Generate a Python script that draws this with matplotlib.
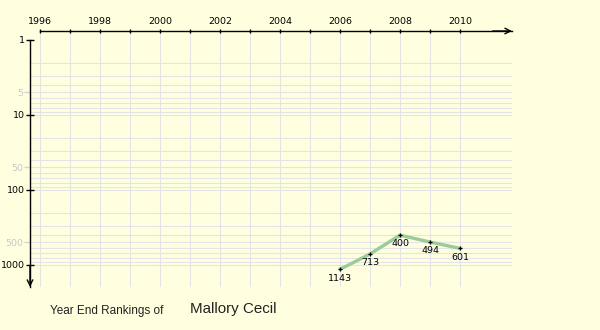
import matplotlib
matplotlib.use("Agg")
import matplotlib.pyplot as plt

# Year-end ranking history
years = [2006, 2007, 2008, 2009, 2010]
ranks = [1143, 713, 400, 494, 601]

major_years = [1996, 1998, 2000, 2002, 2004, 2006, 2008, 2010]
minor_years = [1997, 1999, 2001, 2003, 2005, 2007, 2009]
major_ranks = [1, 10, 100, 1000]
minor_ranks = [5, 50, 500]

player = "Mallory Cecil"

BG = "#ffffe0"
GRID = "#e4e4e6"
W, H = 600, 330

fig = plt.figure(figsize=(W / 100, H / 100), dpi=100, facecolor=BG)
# axes box in pixel terms: left 30, right 512, top 31, bottom 287
ax = fig.add_axes([30 / W, 1 - 287 / H, (512 - 30) / W, (287 - 31) / H])
ax.set_facecolor(BG)
ax.set_xlim(1995.667, 2011.733)
ax.set_yscale("log")
ax.set_ylim(1965, 0.759)

# grid: every year vertically, 2..9 per decade horizontally
for yr in major_years + minor_years:
    ax.axvline(yr, color=GRID, lw=0.8, zorder=0)
grid_ranks = [m * 10 ** k for k in range(3) for m in range(2, 11)]
for r in grid_ranks:
    ax.axhline(r, color=GRID, lw=0.8, zorder=0)

# axes lines
for s in ("right", "bottom"):
    ax.spines[s].set_visible(False)
ax.spines["top"].set_bounds(1996, 2011.733)
ax.spines["left"].set_bounds(1, 1965)
for s in ("top", "left"):
    ax.spines[s].set_linewidth(1.0)
    ax.spines[s].set_color("black")

ax.annotate("", xy=(1.0, 1.0), xytext=(0.96, 1.0), xycoords="axes fraction",
            arrowprops=dict(arrowstyle="->", lw=1.0, color="black",
                            shrinkA=0, shrinkB=0, mutation_scale=10),
            annotation_clip=False)
ax.annotate("", xy=(0.0, 0.0), xytext=(0.0, 0.08), xycoords="axes fraction",
            arrowprops=dict(arrowstyle="->", lw=1.0, color="black",
                            shrinkA=0, shrinkB=0, mutation_scale=10),
            annotation_clip=False)

# x ticks on top
ax.xaxis.tick_top()
ax.set_xticks(major_years)
ax.set_xticklabels([str(y) for y in major_years])
ax.set_xticks(minor_years, minor=True)
ax.tick_params(axis="x", which="both", direction="inout", length=3.2, width=1,
               colors="black", labelsize=6.8, pad=2)

# y ticks
ax.set_yticks(major_ranks)
ax.set_yticklabels([str(r) for r in major_ranks])
ax.set_yticks(minor_ranks, minor=True)
ax.set_yticklabels([str(r) for r in minor_ranks], minor=True)
ax.tick_params(axis="y", which="major", direction="inout", length=6, width=1,
               colors="black", labelsize=6.8, pad=1)
ax.tick_params(axis="y", which="minor", direction="out", length=4, width=1,
               colors="#d4d4d4", labelcolor="#c8c8c8", labelsize=6.8, pad=0.5)

# ranking line with point markers and value labels
ax.plot(years, ranks, color="#99cc99", lw=2.4, solid_capstyle="round", zorder=3)
ax.plot(years, ranks, "+", color="black", ms=3.5, mew=0.9, zorder=4)
for x, r in zip(years, ranks):
    ax.annotate(str(r), (x, r), xytext=(0, -6.3), textcoords="offset points",
                ha="center", va="center", fontsize=6.8, color="black", zorder=5)

fig.text(50 / W, 1 - 311 / H, "Year End Rankings of", family="Liberation Sans",
         fontsize=8.5, color="#222222", ha="left", va="center")
fig.text(190 / W, 1 - 309 / H, player, family="Liberation Sans",
         fontsize=10.9, color="#222222", ha="left", va="center")

fig.savefig("out.png", dpi=100, facecolor=BG)
